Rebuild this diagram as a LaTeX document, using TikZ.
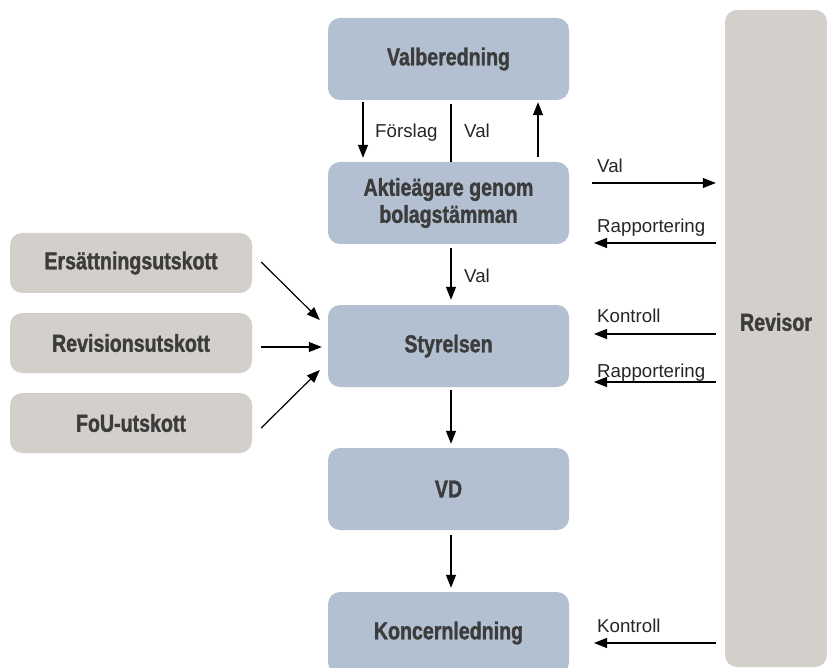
\documentclass[tikz,border=0pt]{standalone}
\usepackage{fontspec}
\setmainfont{Liberation Sans}
\newfontfamily\rubrik[FakeStretch=0.8, BoldFeatures={FakeBold=1.3}]{Liberation Sans}
\usetikzlibrary{arrows.meta}

\definecolor{blaa}{HTML}{B3C0D1}
\definecolor{graa}{HTML}{D3CFCB}
\definecolor{txt}{HTML}{3C3C3C}

\tikzset{
	ruta/.style = {rectangle, rounded corners=12pt, inner sep=0pt, align=center, text=txt,
		font=\rubrik\bfseries\fontsize{24.5}{27}\selectfont},
	blok/.style = {ruta, fill=blaa, minimum width=241pt, minimum height=82pt},
	utsk/.style = {ruta, fill=graa, minimum width=242pt, minimum height=60pt},
	etikett/.style = {anchor=base west, inner sep=0pt, text=black!85,
		font=\fontsize{18.7}{20}\selectfont},
	linje/.style = {line width=1.2pt},
	pil/.style = {linje, -{Triangle[length=13pt,width=10pt]}}
}

\begin{document}
\begin{tikzpicture}[x=1pt,y=-1pt]
	\useasboundingbox (0,0) rectangle (827,668);

	% revisor till hoger
	\node[utsk, minimum width=102pt, minimum height=657pt] (rev) at (776,338.5) {};
	\node[ruta] (revtxt) at (776,322) {Revisor};

	% huvudkedjan
	\node[blok] (valb) at (448.5,59) {Valberedning};
	\node[blok] (akt) at (448.5,203) {Aktieägare genom\\bolagstämman};
	\node[blok] (styr) at (448.5,346) {Styrelsen};
	\node[blok] (vd) at (448.5,489) {VD};
	\node[blok] (konc) at (448.5,633) {Koncernledning};

	% utskotten
	\node[utsk] (ersa) at (131,263) {Ersättningsutskott};
	\node[utsk] (revu) at (131,343) {Revisionsutskott};
	\node[utsk] (fou) at (131,423) {FoU-utskott};

	\draw[pil, shorten <=2pt, shorten >=4pt] ([xshift=-85.5pt]valb.south) -- ([xshift=-85.5pt]akt.north);
	\draw[linje, shorten <=4pt] ([xshift=2.5pt]valb.south) -- ([xshift=2.5pt]akt.north);
	\draw[pil, shorten <=5pt, shorten >=2pt] ([xshift=89.5pt]akt.north) -- ([xshift=89.5pt]valb.south);
	\node[etikett] (forsl) at (375,138) {Förslag};
	\node[etikett] (val1) at (464,138) {Val};

	\draw[pil, shorten <=4pt, shorten >=5pt] ([xshift=2.5pt]akt.south) -- ([xshift=2.5pt]styr.north);
	\node[etikett] (val2) at (464,283) {Val};
	\draw[pil, shorten <=3pt, shorten >=4pt] ([xshift=2.5pt]styr.south) -- ([xshift=2.5pt]vd.north);
	\draw[pil, shorten <=5pt, shorten >=4pt] ([xshift=2.5pt]vd.south) -- ([xshift=2.5pt]konc.north);

	\draw[pil] ([xshift=9pt,yshift=1pt]ersa.east) -- ([xshift=-8pt,yshift=26pt]styr.west);
	\draw[pil] ([xshift=9pt,yshift=-4pt]revu.east) -- ([xshift=-6pt,yshift=-1pt]styr.west);
	\draw[pil] ([xshift=9pt,yshift=-5pt]fou.east) -- ([xshift=-8pt,yshift=-24pt]styr.west);

	% pilar mot revisorn
	\coordinate (valR) at (592,183);
	\coordinate (rap1) at (594,243);
	\coordinate (kon1) at (594,334);
	\coordinate (rap2) at (594,382);
	\coordinate (kon2) at (594,643);
	\draw[pil, shorten >=9pt] (valR) -- (valR -| rev.west);
	\foreach \p in {rap1,kon1,rap2,kon2}
		\draw[pil, shorten <=9pt] (\p -| rev.west) -- (\p);
	\node[etikett] (valRt) at (597,173) {Val};
	\node[etikett] (rap1t) at (597,233) {Rapportering};
	\node[etikett] (kon1t) at (597,323) {Kontroll};
	\node[etikett] (rap2t) at (597,377) {Rapportering};
	\node[etikett] (kon2t) at (597,632) {Kontroll};
\end{tikzpicture}
\end{document}
